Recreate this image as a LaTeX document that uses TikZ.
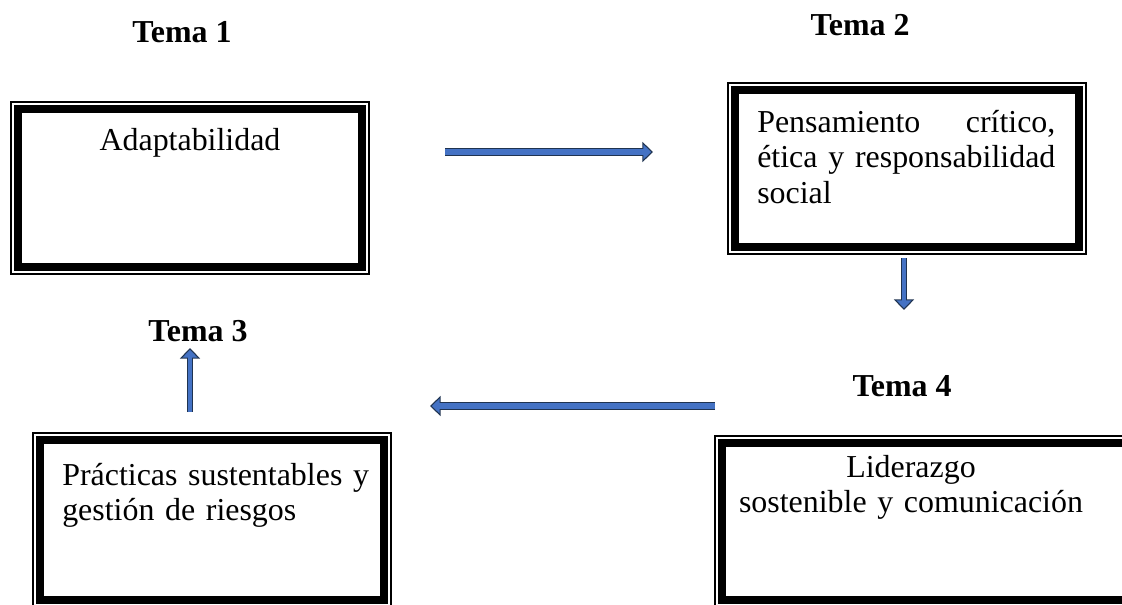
\documentclass[tikz,border=0pt]{standalone}
\usepackage{fontspec}
\setmainfont{Liberation Serif}
\usetikzlibrary{arrows.meta, positioning}
\definecolor{arrowblue}{HTML}{4472C4}
\definecolor{arrownavy}{HTML}{1F3350}
\tikzset{%
  % frames: thick inner rule with a thin rule just outside it
  frame/.style = {rectangle, draw=black, line width=5.7pt,
                  inner sep=0pt, outer sep=0.175cm,
                  append after command={\pgfextra{\draw[line width=1pt]
                    (\tikzlastnode.north west) rectangle (\tikzlastnode.south east);}}},
  txt/.style   = {font=\fontsize{22.7}{25.5}\selectfont, inner sep=0pt},
  tema/.style  = {font=\fontsize{22.7}{25.5}\selectfont\bfseries, inner sep=0pt},
  blockarrow/.style = {draw=arrownavy, line width=#1,
                  -{Triangle[length=7.5pt, width=14pt]},
                  postaction={draw=arrowblue, line width=#1-2pt,
                  shorten >=1.3pt, -{Triangle[length=5.6pt, width=10.5pt]}}}
}
\begin{document}
\begin{tikzpicture}[x=0.025cm, y=-0.025cm]
\useasboundingbox (0,0) rectangle (1122,604);
\clip (0,0) rectangle (1122,604);
% boxes
\node[frame, minimum width=8.6cm, minimum height=3.95cm] (b1) at (190,188) {};
\node[frame, minimum width=8.6cm, minimum height=3.925cm] (b2) at (907,168.5) {};
\node[frame, minimum width=8.6cm, minimum height=4cm] (b3) at (212,520) {};
\node[frame, minimum width=10.2cm, minimum height=3.925cm] (b4) at (926,521.5) {};
% texts
\node[txt, anchor=base] (t1) at (190,150) {Adaptabilidad};
\node[txt, anchor=base west, text width=7.45cm, align=left] (t2) at (757,132)
  {Pensamiento\hfill crítico,\\ ética \hfill y \hfill responsabilidad\\ social};
\node[txt, anchor=base west, text width=8.5cm, align=left] (t3) at (62,485)
  {Prácticas sustentables y\\ gestión de riesgos};
\node[txt, anchor=base, text width=9.5cm, align=center] (t4) at (911,477)
  {Liderazgo\\ sostenible y comunicación};
% tema labels
\node[tema, anchor=base] (tema1) at (182,43) {Tema 1};
\node[tema, anchor=base] (tema2) at (860,36) {Tema 2};
\node[tema, anchor=base] (tema3) at (198,341) {Tema 3};
\node[tema, anchor=base] (tema4) at (902,396) {Tema 4};
% arrow ends
\coordinate (a1s) at (445,152);
\coordinate (a1e) at (653,152);
\coordinate (a2s) at (904,258);
\coordinate (a2e) at (904,310);
\coordinate (a4s) at (715,406);
\coordinate (a4e) at (430,406);
\coordinate (a3s) at (190,412);
\coordinate (a3e) at (190,348);
\draw[blockarrow=5.7pt] (a1s) -- (a1e);
\draw[blockarrow=4.5pt] (a2s) -- (a2e);
\draw[blockarrow=5.7pt] (a4s) -- (a4e);
\draw[blockarrow=4.2pt] (a3s) -- (a3e);
\end{tikzpicture}
\end{document}
